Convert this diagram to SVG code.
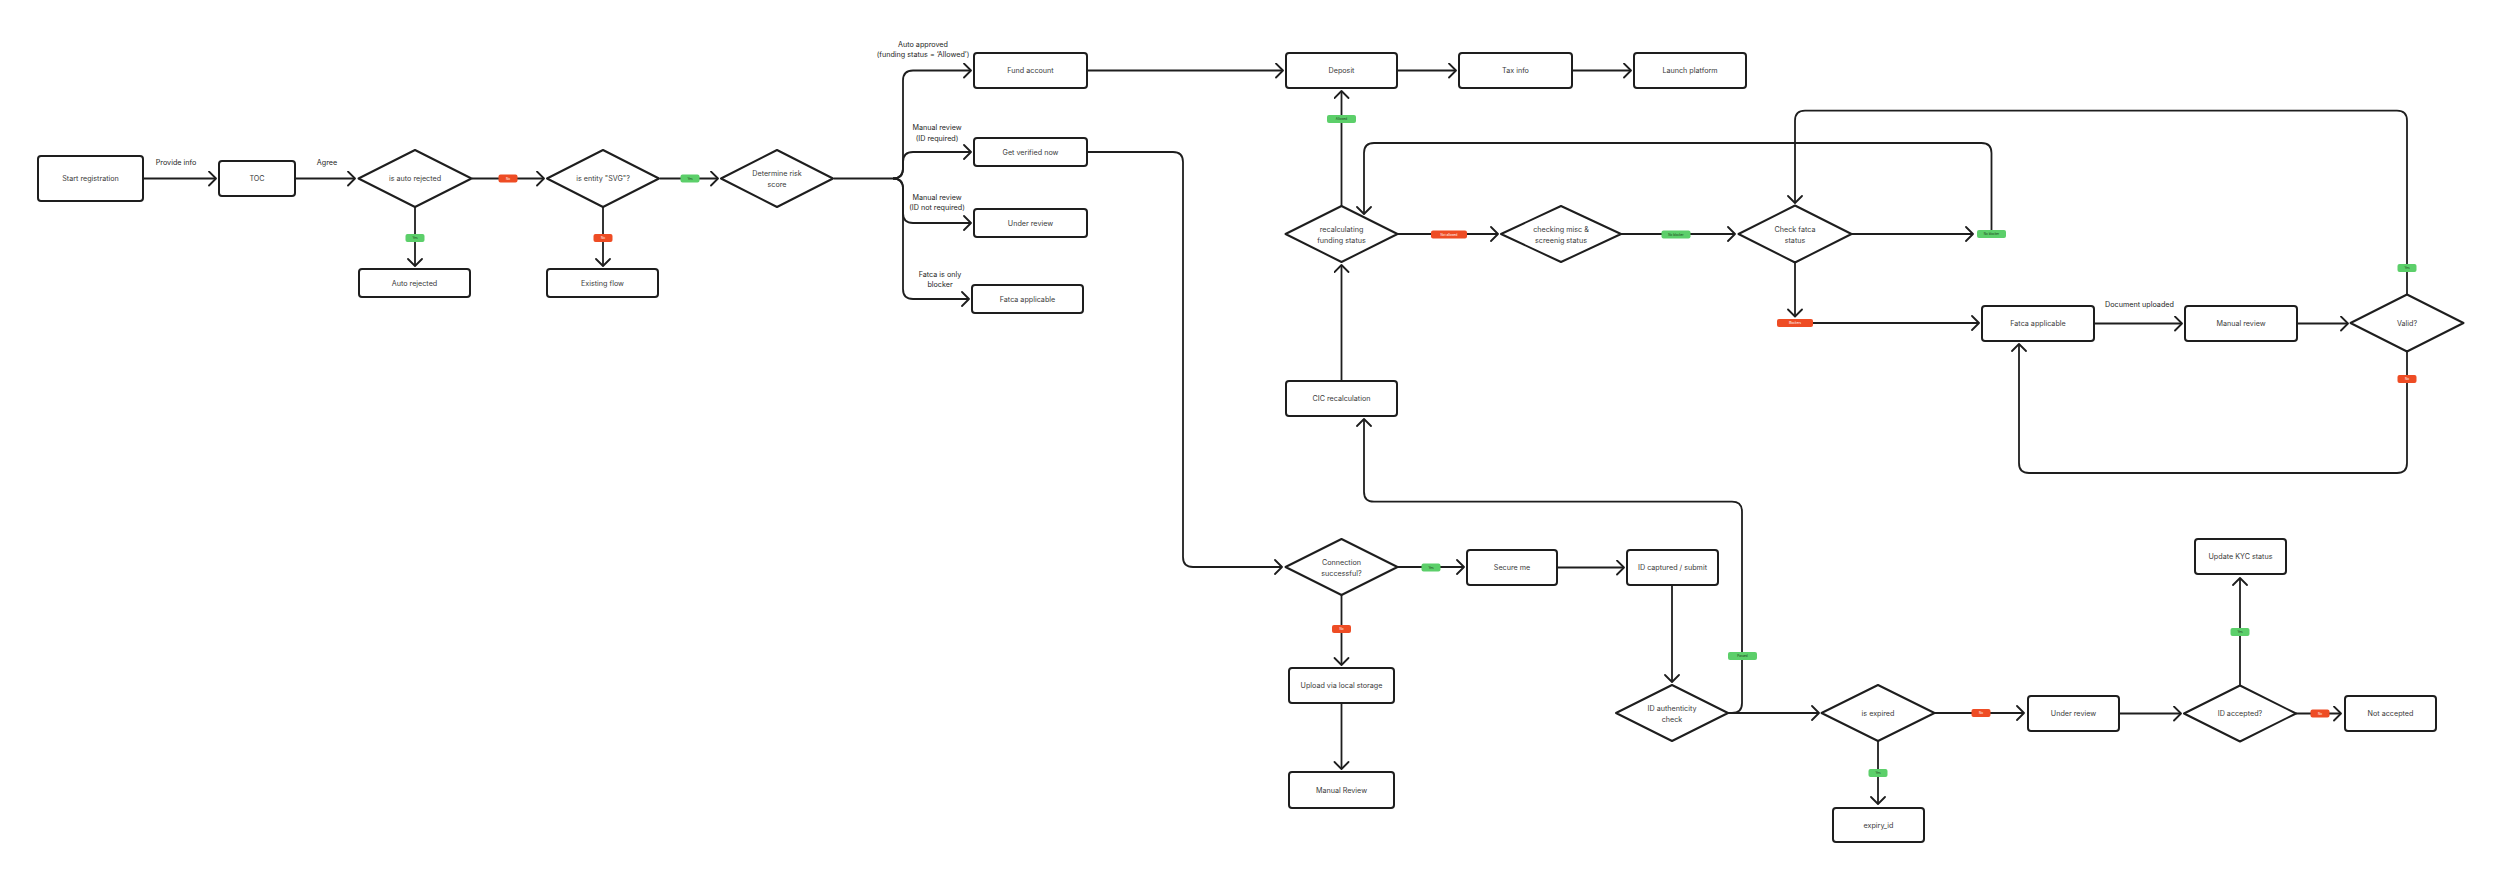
<svg xmlns="http://www.w3.org/2000/svg" width="2500" height="881" viewBox="0 0 2500 881">
<style>
.bx{fill:#fff;stroke:#1e1e1e;stroke-width:2}
.dm{fill:#fff;stroke:#1e1e1e;stroke-width:2;stroke-linejoin:round}
.t{font-family:Inter,"Liberation Sans",sans-serif;font-size:7.2px;fill:#3a3a3a;text-anchor:middle;dominant-baseline:central}
.l{font-family:Inter,"Liberation Sans",sans-serif;font-size:7.2px;fill:#1e1e1e;text-anchor:middle;dominant-baseline:central}
.e{fill:none;stroke:#1e1e1e;stroke-width:1.8;marker-end:url(#a)}
.n{fill:none;stroke:#1e1e1e;stroke-width:1.8}
.g{fill:#5ccf6a}
.r{fill:#ee4c24}
.bt{font-family:Inter,"Liberation Sans",sans-serif;font-size:3px;text-anchor:middle;dominant-baseline:central;fill:#1a3a1a}
.bw{font-family:Inter,"Liberation Sans",sans-serif;font-size:3px;text-anchor:middle;dominant-baseline:central;fill:#fff}
</style>
<defs>
<marker id="a" markerUnits="userSpaceOnUse" markerWidth="12" markerHeight="18" refX="9" refY="8" orient="auto"><path d="M2,1 L9,8 L2,15" fill="none" stroke="#1e1e1e" stroke-width="1.8" stroke-linecap="round" stroke-linejoin="round"/></marker>
</defs>
<rect width="2500" height="881" fill="#fff"/>
<g id="connectors">
<path class="e" d="M143,178.5 H216"/>
<path class="e" d="M295,178.5 H355"/>
<path class="e" d="M472,178.5 H544"/>
<path class="e" d="M660,178.5 H718"/>
<path class="e" d="M415,207 V266"/>
<path class="e" d="M603,207 V266"/>
<path class="n" d="M834,178.5 H893"/>
<path class="e" d="M893,178.5 Q903,178.5 903,168.5 V80.5 Q903,70.5 913,70.5 H971"/>
<path class="e" d="M893,178.5 Q903,178.5 903,168.5 V162 Q903,152 913,152 H971"/>
<path class="e" d="M893,178.5 Q903,178.5 903,188.5 V213 Q903,223 913,223 H971"/>
<path class="e" d="M893,178.5 Q903,178.5 903,188.5 V289 Q903,299 913,299 H969"/>
<path class="e" d="M1087,70.5 H1283"/>
<path class="e" d="M1397,70.5 H1456"/>
<path class="e" d="M1572,70.5 H1631"/>
<path class="e" d="M1341.5,206 V91"/>
<path class="e" d="M1398,234 H1498"/>
<path class="e" d="M1621,234 H1735"/>
<path class="e" d="M1852,234 H1973"/>
<path class="e" d="M1991.5,230 V153 Q1991.5,143 1981.5,143 H1374 Q1364,143 1364,153 V214"/>
<path class="e" d="M2407,294.5 V120.7 Q2407,110.7 2397,110.7 H1805 Q1795,110.7 1795,120.7 V203"/>
<path class="e" d="M1795,262.5 V316.5"/>
<path class="e" d="M1813,323 H1979"/>
<path class="e" d="M2094,323.5 H2182"/>
<path class="e" d="M2297,323.5 H2348"/>
<path class="e" d="M2407,351.5 V463 Q2407,473 2397,473 H2029 Q2019,473 2019,463 V344"/>
<path class="e" d="M1341.5,381 V265"/>
<path class="e" d="M1087,152 H1173 Q1183,152 1183,162 V557 Q1183,567 1193,567 H1282"/>
<path class="e" d="M1397.5,567 H1464"/>
<path class="e" d="M1557,567.5 H1624"/>
<path class="e" d="M1672,585 V682"/>
<path class="e" d="M1341.5,595 V665"/>
<path class="e" d="M1341.5,703 V769"/>
<path class="e" d="M1728,713 H1732 Q1742,713 1742,703 V511.7 Q1742,501.7 1732,501.7 H1374 Q1364,501.7 1364,491.7 V419"/>
<path class="e" d="M1728,713 H1819"/>
<path class="e" d="M1934.5,713 H2024"/>
<path class="e" d="M1878,741 V804"/>
<path class="e" d="M2119,713.5 H2181"/>
<path class="e" d="M2296,713.5 H2341"/>
<path class="e" d="M2240,685.5 V578"/>
<text class="l" x="176" y="162">Provide info</text>
<text class="l" x="327" y="162">Agree</text>
<text class="l" x="923" y="44">Auto approved</text>
<text class="l" x="923" y="54.7">(funding status = ‘Allowed’)</text>
<text class="l" x="937" y="127">Manual review</text>
<text class="l" x="937" y="138">(ID required)</text>
<text class="l" x="937" y="197">Manual review</text>
<text class="l" x="937" y="207.5">(ID not required)</text>
<text class="l" x="940" y="274">Fatca is only</text>
<text class="l" x="940" y="284.5">blocker</text>
<text class="l" x="2139.5" y="304">Document uploaded</text>
<g id="badges">
<rect class="r" x="498.5" y="174.5" width="19" height="8" rx="2"/><text class="bw" x="508" y="178.5">No</text>
<rect class="g" x="680.5" y="174.5" width="19" height="8" rx="2"/><text class="bt" x="690" y="178.5">Yes</text>
<rect class="g" x="405.5" y="234" width="19" height="8" rx="2"/><text class="bt" x="415" y="238">Yes</text>
<rect class="r" x="593.5" y="234" width="19" height="8" rx="2"/><text class="bw" x="603" y="238">No</text>
<rect class="g" x="1327" y="115" width="29" height="8" rx="2"/><text class="bt" x="1341.5" y="119">Allowed</text>
<rect class="r" x="1431" y="230.5" width="36" height="8" rx="2"/><text class="bw" x="1449" y="234.5">Not allowed</text>
<rect class="g" x="1661.5" y="230.5" width="29" height="8" rx="2"/><text class="bt" x="1676" y="234.5">No blocker</text>
<rect class="g" x="1977" y="230" width="29" height="8" rx="2"/><text class="bt" x="1991.5" y="234">No blocker</text>
<rect class="g" x="2397.5" y="264" width="19" height="8" rx="2"/><text class="bt" x="2407" y="268">Yes</text>
<rect class="r" x="1777" y="319" width="36" height="8" rx="2"/><text class="bw" x="1795" y="323">Blockers</text>
<rect class="r" x="2397.5" y="375" width="19" height="8" rx="2"/><text class="bw" x="2407" y="379">No</text>
<rect class="g" x="1421.5" y="563.5" width="19" height="8" rx="2"/><text class="bt" x="1431" y="567.5">Yes</text>
<rect class="r" x="1332" y="625" width="19" height="8" rx="2"/><text class="bw" x="1341.5" y="629">No</text>
<rect class="g" x="1728" y="652" width="29" height="8" rx="2"/><text class="bt" x="1742.5" y="656">Passed</text>
<rect class="r" x="1971.5" y="709" width="19" height="8" rx="2"/><text class="bw" x="1981" y="713">No</text>
<rect class="g" x="1868.5" y="769" width="19" height="8" rx="2"/><text class="bt" x="1878" y="773">Yes</text>
<rect class="r" x="2310.5" y="709.5" width="19" height="8" rx="2"/><text class="bw" x="2320" y="713.5">No</text>
<rect class="g" x="2230.5" y="628" width="19" height="8" rx="2"/><text class="bt" x="2240" y="632">Yes</text>
</g>
</g>
<g id="start"><rect class="bx" x="38" y="156" width="105" height="45" rx="3"/><text class="t" x="90.5" y="178.5">Start registration</text></g>
<g id="toc"><rect class="bx" x="219" y="161" width="76" height="35" rx="3"/><text class="t" x="257" y="178.5">TOC</text></g>
<g id="is-auto-rejected"><polygon class="dm" points="358.5,178.5 415,150 471.5,178.5 415,207"/><text class="t" x="415" y="178.5">is auto rejected</text></g>
<g id="is-entity-svg"><polygon class="dm" points="547,178.5 603,150 659,178.5 603,207"/><text class="t" x="603" y="178.5">is entity "SVG"?</text></g>
<g id="determine-risk"><polygon class="dm" points="721,178.5 777,150 833,178.5 777,207"/><text class="t" x="777" y="173">Determine risk</text><text class="t" x="777" y="184">score</text></g>
<g id="auto-rejected"><rect class="bx" x="359" y="269" width="111" height="28" rx="3"/><text class="t" x="414.5" y="283">Auto rejected</text></g>
<g id="existing-flow"><rect class="bx" x="547" y="269" width="111" height="28" rx="3"/><text class="t" x="602.5" y="283">Existing flow</text></g>
<g id="fund-account"><rect class="bx" x="974" y="53" width="113" height="35" rx="3"/><text class="t" x="1030.5" y="70.5">Fund account</text></g>
<g id="get-verified"><rect class="bx" x="974" y="138" width="113" height="28" rx="3"/><text class="t" x="1030.5" y="152">Get verified now</text></g>
<g id="under-review-1"><rect class="bx" x="974" y="209" width="113" height="28" rx="3"/><text class="t" x="1030.5" y="223">Under review</text></g>
<g id="fatca-applicable-1"><rect class="bx" x="972" y="285" width="111" height="28" rx="3"/><text class="t" x="1027.5" y="299">Fatca applicable</text></g>
<g id="deposit"><rect class="bx" x="1286" y="53" width="111" height="35" rx="3"/><text class="t" x="1341.5" y="70.5">Deposit</text></g>
<g id="tax-info"><rect class="bx" x="1459" y="53" width="113" height="35" rx="3"/><text class="t" x="1515.5" y="70.5">Tax info</text></g>
<g id="launch-platform"><rect class="bx" x="1634" y="53" width="112" height="35" rx="3"/><text class="t" x="1690" y="70.5">Launch platform</text></g>
<g id="recalculating"><polygon class="dm" points="1285.5,234 1341.5,206 1397.5,234 1341.5,262"/><text class="t" x="1341.5" y="229">recalculating</text><text class="t" x="1341.5" y="240">funding status</text></g>
<g id="checking-misc"><polygon class="dm" points="1501,234 1561,206 1621,234 1561,262"/><text class="t" x="1561" y="229">checking misc &amp;</text><text class="t" x="1561" y="240">screenig status</text></g>
<g id="check-fatca"><polygon class="dm" points="1738.5,234 1795,205.5 1851.5,234 1795,262.5"/><text class="t" x="1795" y="229">Check fatca</text><text class="t" x="1795" y="240">status</text></g>
<g id="fatca-applicable-2"><rect class="bx" x="1982" y="306" width="112" height="35" rx="3"/><text class="t" x="2038" y="323.5">Fatca applicable</text></g>
<g id="manual-review"><rect class="bx" x="2185" y="306" width="112" height="35" rx="3"/><text class="t" x="2241" y="323.5">Manual review</text></g>
<g id="valid"><polygon class="dm" points="2350.5,323 2407,294.5 2463.5,323 2407,351.5"/><text class="t" x="2407" y="323">Valid?</text></g>
<g id="cic-recalculation"><rect class="bx" x="1286" y="381" width="111" height="35" rx="3"/><text class="t" x="1341.5" y="398.5">CIC recalculation</text></g>
<g id="connection"><polygon class="dm" points="1285.5,567 1341.5,539 1397.5,567 1341.5,595"/><text class="t" x="1341.5" y="562">Connection</text><text class="t" x="1341.5" y="573">successful?</text></g>
<g id="secure-me"><rect class="bx" x="1467" y="550" width="90" height="35" rx="3"/><text class="t" x="1512" y="567.5">Secure me</text></g>
<g id="id-captured"><rect class="bx" x="1627" y="550" width="91" height="35" rx="3"/><text class="t" x="1672.5" y="567.5">ID captured / submit</text></g>
<g id="upload-local"><rect class="bx" x="1289" y="668" width="105" height="35" rx="3"/><text class="t" x="1341.5" y="685.5">Upload via local storage</text></g>
<g id="manual-review-2"><rect class="bx" x="1289" y="772" width="105" height="36" rx="3"/><text class="t" x="1341.5" y="790">Manual Review</text></g>
<g id="id-authenticity"><polygon class="dm" points="1616,713 1672,685 1728,713 1672,741"/><text class="t" x="1672" y="708">ID authenticity</text><text class="t" x="1672" y="719">check</text></g>
<g id="is-expired"><polygon class="dm" points="1821.5,713 1878,685 1934.5,713 1878,741"/><text class="t" x="1878" y="713">is expired</text></g>
<g id="expiry-id"><rect class="bx" x="1833" y="808" width="91" height="34" rx="3"/><text class="t" x="1878.5" y="825">expiry_id</text></g>
<g id="under-review-2"><rect class="bx" x="2028" y="696" width="91" height="35" rx="3"/><text class="t" x="2073.5" y="713.5">Under review</text></g>
<g id="id-accepted"><polygon class="dm" points="2184,713.5 2240,685.5 2296,713.5 2240,741.5"/><text class="t" x="2240" y="713.5">ID accepted?</text></g>
<g id="update-kyc"><rect class="bx" x="2195" y="539" width="91" height="35" rx="3"/><text class="t" x="2240.5" y="556.5">Update KYC status</text></g>
<g id="not-accepted"><rect class="bx" x="2345" y="696" width="91" height="35" rx="3"/><text class="t" x="2390.5" y="713.5">Not accepted</text></g>
</svg>
